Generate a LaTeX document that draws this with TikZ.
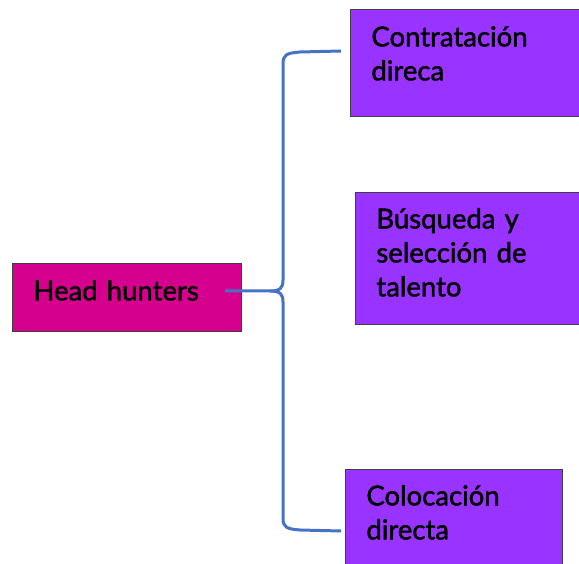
\documentclass[tikz,border=0pt]{standalone}
\usepackage{fontspec}
\setmainfont{Lato}[FakeBold=1.6,AutoFakeBold=1.6]
\usetikzlibrary{positioning}
\definecolor{hhpink}{HTML}{D6008F}
\definecolor{optpurple}{HTML}{9933FF}
\definecolor{bracecol}{HTML}{4472C4}
\tikzset{
  box/.style={draw=black!75,line width=0.8pt,anchor=north west,inner sep=0pt,
              align=left,font=\fontsize{27.5}{34}\selectfont\bfseries},
  brace/.style={draw=bracecol,line width=3pt,line join=round}
}

\begin{document}
\begin{tikzpicture}[x=1pt,y=-1pt]

            %\draw [help lines] (0,0) grid (579,564);
            \useasboundingbox (0,0) rectangle (579,564);

            \node (hh) [box,fill=hhpink,minimum width=229pt,text height=37pt,text depth=31pt,
                        text width=187pt] at (12,263) {Head hunters};
            \node (ct) [box,fill=optpurple,minimum width=232pt,text height=37pt,text depth=70pt,
                        text width=190pt] at (350,9) {Contratación\\direca};
            \node (bs) [box,fill=optpurple,minimum width=228pt,text height=36pt,text depth=96pt,
                        text width=186pt] at (355,192) {Búsqueda y\\selección de\\talento};
            \node (cl) [box,fill=optpurple,minimum width=217pt,text height=36pt,text depth=64pt,
                        text width=175pt] at (345,469) {Colocación\\directa};

            \coordinate (start) at (225,291);
            \coordinate (tip) at (270,291);
            \coordinate (up) at (341,51);
            \coordinate (down) at (341,531);

            % brace
            \draw[brace] (start) -- (tip)
                  .. controls (280,291) and (283,288) .. (283,280)
                  -- (283,64) .. controls (283,55) and (286,53) .. (300,52) -- (up);
            \draw[brace] (tip)
                  .. controls (280,291) and (283,294) .. (283,302)
                  -- (283,518) .. controls (283,527) and (286,529) .. (300,530) -- (down);

\end{tikzpicture}
\end{document}
